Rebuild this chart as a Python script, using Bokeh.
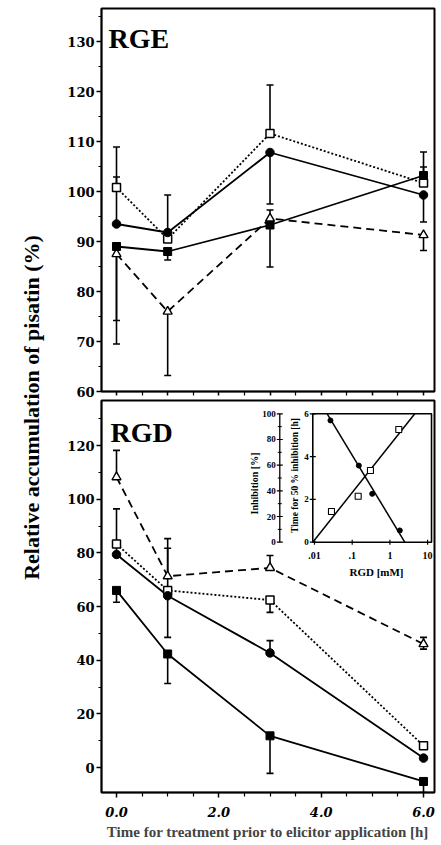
import math
from bokeh.plotting import figure
from bokeh.layouts import row, column
from bokeh.models import Range1d, LogScale, FixedTicker, Label, CustomLabelingPolicy
from bokeh.embed import file_html
from bokeh.resources import INLINE
from bokeh.core.properties import value

# ---------------- data ----------------
times = [0, 1, 3, 6]

# RGE panel (values and one-sided error bar ends; None = not drawn)
rge_circle = [93.5, 91.8, 107.8, 99.3]
rge_circle_hi = [102.9, 99.3, None, None]
rge_circle_lo = [None, None, 97.5, 93.9]
rge_fsquare = [89.0, 88.0, 93.3, 103.2]
rge_fsquare_hi = [None, None, None, 107.9]
rge_fsquare_lo = [74.2, 86.3, 84.9, None]
rge_osquare = [100.8, 90.5, 111.6, 101.7]
rge_osquare_hi = [108.9, None, 121.3, 104.9]
rge_osquare_lo = [None, None, None, None]
rge_triangle = [87.5, 76.0, 94.6, 91.3]
rge_triangle_hi = [None, None, 96.3, None]
rge_triangle_lo = [69.5, 63.2, None, 88.2]

# RGD panel
rgd_circle = [79.4, 64.0, 42.7, 3.5]
rgd_circle_hi = [96.4, 81.7, 47.3, None]
rgd_circle_lo = [None, 48.5, None, None]
rgd_fsquare = [66.0, 42.3, 11.8, -5.2]
rgd_fsquare_hi = [None, None, None, None]
rgd_fsquare_lo = [61.6, 31.3, -2.2, -9.3]
rgd_osquare = [83.3, 66.0, 62.4, 8.1]
rgd_osquare_hi = [None, None, None, None]
rgd_osquare_lo = [None, None, 57.8, None]
rgd_triangle = [108.2, 71.3, 74.4, 46.0]
rgd_triangle_hi = [118.2, 85.3, 79.0, 48.5]
rgd_triangle_lo = [None, None, None, 44.1]

# Inset: time for 50 % inhibition (filled circles) and inhibition (open squares) vs RGD [mM]
inset_circle_rgd = [0.0265, 0.150, 0.339, 1.83]
inset_circle_time = [5.69, 3.58, 2.26, 0.55]
inset_square_rgd = [0.0282, 0.144, 0.305, 1.72]
inset_square_inhib = [23.9, 35.8, 55.8, 87.8]
time_fit_rgd = [0.0217, 2.48]
time_fit_val = [6, 0]
inhib_fit_rgd = [0.0090, 4.57]
inhib_fit_val = [0, 100]

# ticks
rge_yticks = [60, 70, 80, 90, 100, 110, 120, 130]
rgd_yticks = [0, 20, 40, 60, 80, 100, 120]
x_ticks = [0, 2, 4, 6]
x_tick_labels = ["0.0", "2.0", "4.0", "6.0"]
inset_x_ticks = [0.01, 0.1, 1, 10]
inset_x_labels = [".01", ".1", "1", "10"]
inset_time_ticks = [0, 2, 4, 6]
inset_inhib_ticks = [0, 20, 40, 60, 80, 100]
inset_x_lim = [0.0090, 12.7]
inset_time_lim = [0, 6]

# ---------------- layout constants (page pixels) ----------------
FRAME_L, FRAME_R = 101, 434
X0_PX, HOUR_PX = 116, 51.17
P1_T, P1_B = 8, 391
P2_T, P2_B = 400, 792
DEC_PX, X001_PX = 37.7, 314.0
T0_PX, TH_PX = 541.7, 21.4
TITLE_W = 48

x_lo = (FRAME_L - X0_PX) / HOUR_PX
x_hi = (FRAME_R - X0_PX) / HOUR_PX

SERIF = "Liberation Serif"
NUM = "DejaVu Serif"


def style(p):
    p.grid.visible = False
    p.outline_line_color = "black"
    p.outline_line_width = 2
    for ax in p.axis:
        ax.axis_line_color = "black"
        ax.axis_line_width = 1.5
        ax.major_tick_line_color = "black"
        ax.minor_tick_line_color = "black"
        ax.major_tick_line_width = 1.5
        ax.minor_tick_line_width = 1.2
        ax.major_tick_in = 0
        ax.minor_tick_in = 0
        ax.major_label_text_font = NUM
        ax.major_label_text_font_style = "bold"
        ax.major_label_text_font_size = "13px"
        ax.major_label_text_color = "black"


def add_lines(p, ys, his, los, dash):
    p.line(times, ys, line_color="black", line_width=1.8, line_dash=dash)
    x0, y0, y1, cx, cy = [], [], [], [], []
    for t, v, h, l in zip(times, ys, his, los):
        top = h if h is not None else v
        bot = l if l is not None else v
        if top != bot:
            x0.append(t); y0.append(bot); y1.append(top)
        if h is not None:
            cx.append(t); cy.append(h)
        if l is not None:
            cx.append(t); cy.append(l)
    if x0:
        p.segment(x0=x0, y0=y0, x1=x0, y1=y1, line_color="black", line_width=1.6)
    if cx:
        p.scatter(cx, cy, marker="dash", size=7, line_color="black", line_width=1.6)


def add_markers(p, circ, fsq, osq, tri):
    p.scatter(times, tri, marker="triangle", size=9, fill_color="white", line_color="black", line_width=1.4)
    p.scatter(times, osq, marker="square", size=8, fill_color="white", line_color="black", line_width=1.5)
    p.scatter(times, fsq, marker="square", size=8, fill_color="black", line_color="black")
    p.scatter(times, circ, marker="circle", size=8.5, fill_color="black", line_color="black")


# ---------------- top panel (RGE) ----------------
p1 = figure(frame_width=FRAME_R - FRAME_L, frame_height=P1_B - P1_T,
            x_range=Range1d(x_lo, x_hi), y_range=Range1d(60, 136.6),
            output_backend="svg", toolbar_location=None,
            min_border_left=FRAME_L - TITLE_W, min_border_right=4,
            min_border_top=P1_T, min_border_bottom=P2_T - 1 - P1_B)
style(p1)
p1.xaxis.ticker = FixedTicker(ticks=list(range(0, 7)), minor_ticks=[0.5, 1.5, 2.5, 3.5, 4.5, 5.5])
p1.xaxis.major_label_overrides = {t: "" for t in range(0, 7)}
p1.xaxis.major_label_policy = CustomLabelingPolicy(code="""
    for (const i of indices) { indices.unset(i) }
    return indices
""")
p1.xaxis.major_label_standoff = 0
p1.xaxis.major_tick_out = 4
p1.xaxis.minor_tick_out = 4
p1.yaxis.ticker = FixedTicker(ticks=rge_yticks, minor_ticks=[65, 75, 85, 95, 105, 115, 125, 135])
p1.yaxis.major_tick_out = 5
p1.yaxis.minor_tick_out = 3
p1.yaxis.major_label_standoff = 2

add_lines(p1, rge_triangle, rge_triangle_hi, rge_triangle_lo, "8 5")
add_lines(p1, rge_osquare, rge_osquare_hi, rge_osquare_lo, "2 2")
add_lines(p1, rge_fsquare, rge_fsquare_hi, rge_fsquare_lo, "solid")
add_lines(p1, rge_circle, rge_circle_hi, rge_circle_lo, "solid")
add_markers(p1, rge_circle, rge_fsquare, rge_osquare, rge_triangle)
p1.add_layout(Label(x=-0.156, y=130.6, text="RGE", text_font=SERIF, text_font_style="bold",
                    text_font_size="28px", text_baseline="alphabetic", text_color="black"))

# ---------------- bottom panel (RGD) ----------------
y2_top = (767 - P2_T) / 2.6833
y2_bot = (767 - P2_B) / 2.6833
P2_BOTTOM_BORDER = 52
p2 = figure(frame_width=FRAME_R - FRAME_L, frame_height=P2_B - P2_T,
            x_range=Range1d(x_lo, x_hi), y_range=Range1d(y2_bot, y2_top),
            output_backend="svg", toolbar_location=None,
            min_border_left=FRAME_L - TITLE_W, min_border_right=4, min_border_top=1,
            min_border_bottom=P2_BOTTOM_BORDER)
style(p2)
p2.xaxis.ticker = FixedTicker(ticks=x_ticks, minor_ticks=[0.5, 1, 1.5, 2.5, 3, 3.5, 4.5, 5, 5.5])
p2.xaxis.major_label_overrides = {t: s for t, s in zip(x_ticks, x_tick_labels)}
p2.xaxis.major_label_text_font_style = "bold italic"
p2.xaxis.major_tick_out = 5
p2.xaxis.minor_tick_out = 4
p2.xaxis.major_label_standoff = 9
p2.xaxis.axis_label = "Time for treatment prior to elicitor application [h]"
p2.xaxis.axis_label_text_font = SERIF
p2.xaxis.axis_label_text_font_style = "bold"
p2.xaxis.axis_label_text_font_size = "15px"
p2.xaxis.axis_label_standoff = 4
p2.yaxis.ticker = FixedTicker(ticks=rgd_yticks, minor_ticks=[10, 30, 50, 70, 90, 110, 130])
p2.yaxis.major_tick_out = 5
p2.yaxis.minor_tick_out = 3
p2.yaxis.major_label_standoff = 2

add_lines(p2, rgd_triangle, rgd_triangle_hi, rgd_triangle_lo, "8 5")
add_lines(p2, rgd_osquare, rgd_osquare_hi, rgd_osquare_lo, "2 2")
add_lines(p2, rgd_fsquare, rgd_fsquare_hi, rgd_fsquare_lo, "solid")
add_lines(p2, rgd_circle, rgd_circle_hi, rgd_circle_lo, "solid")
add_markers(p2, rgd_circle, rgd_fsquare, rgd_osquare, rgd_triangle)
p2.add_layout(Label(x=-0.117, y=124.9, text="RGD", text_font=SERIF, text_font_style="bold",
                    text_font_size="28px", text_baseline="alphabetic", text_color="black"))

# ---------------- inset (drawn on extra ranges of the bottom panel) ----------------
log_lo = -2 + (FRAME_L - X001_PX) / DEC_PX
log_hi = -2 + (FRAME_R - X001_PX) / DEC_PX
t_top = (T0_PX - P2_T) / TH_PX
t_bot = (T0_PX - P2_B) / TH_PX
p2.extra_x_ranges = {"rgd": Range1d(10 ** log_lo, 10 ** log_hi)}
p2.extra_x_scales = {"rgd": LogScale()}
p2.extra_y_ranges = {"time": Range1d(t_bot, t_top),
                     "inhib": Range1d(t_bot * 100 / 6, t_top * 100 / 6)}
IX = dict(x_range_name="rgd", y_range_name="time")
II = dict(x_range_name="rgd", y_range_name="inhib")

p2.quad(left=[inset_x_lim[0]], right=[inset_x_lim[1]], bottom=[inset_time_lim[0]], top=[inset_time_lim[1]],
        fill_color="white", line_color="black", line_width=1.6, **IX)
p2.line(time_fit_rgd, time_fit_val, line_color="black", line_width=1.5, **IX)
p2.line(inhib_fit_rgd, inhib_fit_val, line_color="black", line_width=1.5, **II)
p2.scatter(inset_circle_rgd, inset_circle_time, marker="circle", size=5, fill_color="black",
           line_color="black", **IX)
p2.scatter(inset_square_rgd, inset_square_inhib, marker="square", size=6, fill_color="white",
           line_color="black", line_width=1.1, **II)

inset_font = value(SERIF)
# time axis (left edge of inset box)
p2.scatter([inset_x_lim[0]] * len(inset_time_ticks), inset_time_ticks, marker="dash", size=6,
           line_color="black", line_width=1.2, **IX)
p2.text([inset_x_lim[0]] * len(inset_time_ticks), inset_time_ticks,
        text=[str(t) for t in inset_time_ticks], x_offset=-4, text_align="right",
        text_baseline="middle", text_font=inset_font, text_font_style="bold", text_font_size="9px",
        text_color="black", **IX)
p2.text([0.00313], [3.12], text=["Time for 50 % inhibition [h]"], angle=math.pi / 2,
        text_align="center", text_baseline="middle", text_font=inset_font, text_font_style="bold",
        text_font_size="9.5px", text_color="black", **IX)
# inhibition axis (free-standing, left of the inset box)
inh_axis_x = 0.0012
p2.segment(x0=[inh_axis_x], y0=[inset_inhib_ticks[0]], x1=[inh_axis_x], y1=[inset_inhib_ticks[-1]],
           line_color="black", line_width=1.3, **II)
p2.scatter([inh_axis_x] * len(inset_inhib_ticks), inset_inhib_ticks, marker="dash", size=6,
           line_color="black", line_width=1.2, **II)
p2.scatter([inh_axis_x] * 5, [10, 30, 50, 70, 90], marker="dash", size=4,
           line_color="black", line_width=1.0, **II)
p2.text([inh_axis_x] * len(inset_inhib_ticks), inset_inhib_ticks,
        text=[str(t) for t in inset_inhib_ticks], x_offset=-4, text_align="right",
        text_baseline="middle", text_font=inset_font, text_font_style="bold", text_font_size="9px",
        text_color="black", **II)
p2.text([0.000257], [45.7], text=["Inhibition [%]"], angle=math.pi / 2,
        text_align="center", text_baseline="middle", text_font=inset_font, text_font_style="bold",
        text_font_size="10px", text_color="black", **II)
# RGD axis (bottom edge of inset box)
p2.scatter(inset_x_ticks, [inset_time_lim[0]] * len(inset_x_ticks), marker="dash", angle=math.pi / 2,
           size=5, line_color="black", line_width=1.2, **IX)
p2.text(inset_x_ticks, [inset_time_lim[0]] * len(inset_x_ticks), text=inset_x_labels, y_offset=13,
        text_align="center", text_baseline="middle", text_font=inset_font, text_font_style="bold",
        text_font_size="10px", text_color="black", **IX)
p2.text([0.441], [-1.37], text=["RGD [mM]"], text_align="center", text_baseline="middle",
        text_font=inset_font, text_font_style="bold", text_font_size="11px", text_color="black", **IX)

# ---------------- shared y-axis title ----------------
TOTAL_H = P2_B + P2_BOTTOM_BORDER
pt = figure(width=TITLE_W, height=TOTAL_H, x_range=Range1d(0, TITLE_W), y_range=Range1d(TOTAL_H, 0),
            output_backend="svg", toolbar_location=None, x_axis_type=None, y_axis_type=None,
            min_border=0)
pt.grid.visible = False
pt.outline_line_color = None
pt.add_layout(Label(x=31, y=407, text="Relative accumulation of pisatin (%)", angle=math.pi / 2,
                    text_align="center", text_baseline="middle", text_font=SERIF,
                    text_font_style="bold", text_font_size="22px", text_color="black"))

layout = row(pt, column(p1, p2))
open("out.html", "w").write(file_html(layout, INLINE))
